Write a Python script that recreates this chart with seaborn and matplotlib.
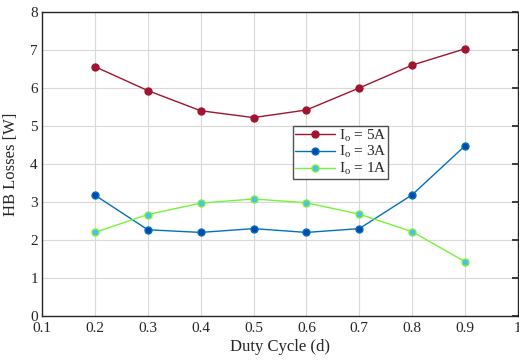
import matplotlib
matplotlib.use("Agg")
import matplotlib.pyplot as plt
import seaborn as sns
import pandas as pd

duty = [0.2, 0.3, 0.4, 0.5, 0.6, 0.7, 0.8, 0.9]
loss_5a = [6.56, 5.93, 5.40, 5.22, 5.42, 6.00, 6.60, 7.03]
loss_3a = [3.18, 2.27, 2.20, 2.30, 2.20, 2.30, 3.19, 4.48]
loss_1a = [2.20, 2.67, 2.97, 3.08, 2.98, 2.68, 2.22, 1.43]
labels = [r"I$_{\rm o}$ = 5A", r"I$_{\rm o}$ = 3A", r"I$_{\rm o}$ = 1A"]
xticks = [0.1, 0.2, 0.3, 0.4, 0.5, 0.6, 0.7, 0.8, 0.9, 1]
yticks = [0, 1, 2, 3, 4, 5, 6, 7, 8]

sns.set_theme(style="white")
plt.rcParams['font.family'] = ['Liberation Serif', 'DejaVu Serif']
plt.rcParams['mathtext.fontset'] = 'custom'
plt.rcParams['mathtext.rm'] = 'Liberation Serif'
plt.rcParams['mathtext.it'] = 'Liberation Serif'

fig = plt.figure(figsize=(5.19, 3.6), dpi=100)
ax = fig.add_axes([0.081, 0.122, 0.917, 0.845])

styles = [
    (loss_5a, labels[0], '#A2142F', '#A2142F', '#A2142F'),
    (loss_3a, labels[1], '#0072BD', '#0047AB', '#0072BD'),
    (loss_1a, labels[2], '#77F33A', '#4DBEEE', '#77F33A'),
]
for vals, lab, lc, mfc, mec in styles:
    df = pd.DataFrame({"d": duty, "loss": vals})
    sns.lineplot(data=df, x="d", y="loss", ax=ax, color=lc, marker='o',
                 markersize=5, markerfacecolor=mfc, markeredgecolor=mec,
                 markeredgewidth=1, linewidth=1, label=lab)

ax.set_xlim(0.1, 1)
ax.set_ylim(0, 8)
ax.set_xticks(xticks)
ax.set_xticklabels([str(t) for t in xticks])
ax.set_yticks(yticks)
ax.grid(True, color='#d9d9d9', linewidth=0.8)
ax.tick_params(direction='in', length=4, color='#262626', labelsize=11,
               colors='#262626', right=True, top=False)
ax.tick_params(axis='x', pad=4)
ax.tick_params(axis='y', pad=3)
for s in ax.spines.values():
    s.set_color('#262626')
    s.set_linewidth(1)
ax.set_xlabel("Duty Cycle (d)", fontsize=12, labelpad=3)
ax.set_ylabel("HB Losses [W]", fontsize=12, labelpad=8)

leg = ax.legend(loc='upper left', bbox_to_anchor=(0.528, 0.625), frameon=True,
                fancybox=False, edgecolor='#262626', fontsize=11,
                handlelength=2.6, borderpad=0.1, labelspacing=0.05,
                handletextpad=0.3, borderaxespad=0)
leg.get_frame().set_linewidth(1)

fig.savefig("out.png", dpi=100)
